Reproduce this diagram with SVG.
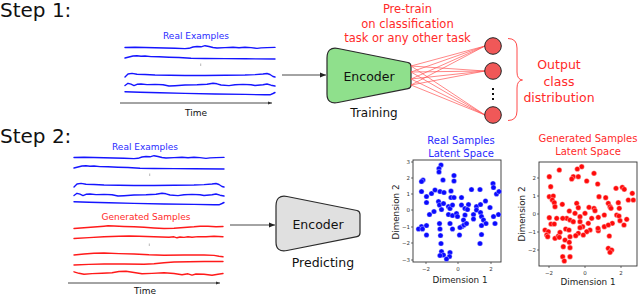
<svg xmlns="http://www.w3.org/2000/svg" xmlns:xlink="http://www.w3.org/1999/xlink" width="640" height="294" viewBox="0 0 640 294">
<style>
text{font-family:"DejaVu Sans","Liberation Sans",sans-serif}
.step{font-size:20px;fill:#111}
.lbl{font-size:9px;text-anchor:middle}
.blue{fill:#2b2bff}
.red{fill:#ff2a2a}
.blk{fill:#111}
.wb{fill:none;stroke:#1515ff;stroke-width:1.4;stroke-linejoin:round;stroke-linecap:round}
.wr{fill:none;stroke:#ff1a1a;stroke-width:1.4;stroke-linejoin:round;stroke-linecap:round}
.ax{stroke:#333;stroke-width:0.9;fill:none}
.enc{stroke:#2a2a2a;stroke-width:1.2}
.nn{stroke:#ff5555;stroke-width:0.7;fill:none}
.node{fill:#f05858;stroke:#222;stroke-width:1}
.box{fill:#fff;stroke:#333;stroke-width:0.9}
.tk{stroke:#333;stroke-width:0.7}
.tl{font-size:5.5px;fill:#333}
.pb circle{fill:#0a0aff;stroke:#ddf;stroke-width:0.4}
.pr circle{fill:#ff0a0a;stroke:#fdd;stroke-width:0.4}
.dim{font-size:8.8px;fill:#222;text-anchor:middle}
.tt{font-size:10px;text-anchor:middle}
</style>
<defs>
<marker id="ah" viewBox="0 0 10 10" refX="10" refY="5" markerWidth="6" markerHeight="6" orient="auto" markerUnits="userSpaceOnUse"><path d="M0,1 L10,5 L0,9 Z" fill="#222"/></marker>
<marker id="ahs" viewBox="0 0 10 10" refX="10" refY="5" markerWidth="4" markerHeight="4" orient="auto" markerUnits="userSpaceOnUse"><path d="M0,1 L10,5 L0,9 Z" fill="#333"/></marker>
<path id="encShape" d="M338,48.5 L408,62.5 Q411,63.2 411,66.5 L411,85 Q411,88 408,88.6 L338,102.5 Q327,104.5 327,94 L327,58 Q327,46.5 338,48.5 Z"/>
<g id="blueWaves">
<polyline class="wb" points="125,47.5 135,47.2 145,47.5 155,47.8 165,48 175,48.3 185,48.6 189,48.3 193,47 197,46.5 201,46.8 205,45.7 209,46.5 213,47.5 217,48 225,47.6 233,47.2 239,47.8 245,47.3 251,47.6 257,48.4 261,47.9 267,47.6 275,47.4"/>
<polyline class="wb" points="125,58 129,57 133,56 137,55.8 141,56.3 145,56 151,56.6 159,56.8 169,57.2 179,57.5 191,58.2 205,58.5 225,58.6 245,58.8 275,59"/>
<polyline class="wb" points="125,77 128,74 132,73.4 137,74.3 145,74.5 155,75 170,75.3 185,75.5 205,75.5 225,75.3 245,75 255,74.6 263,74 267,73.5 270,74.5 273,76.5 275,77"/>
<polyline class="wb" points="125,85.5 128,83.3 131,84.2 134,85.6 137,84.3 141,84 147,84.6 155,84.4 163,84.7 169,86 175,85.7 185,85 197,84.8 207,84.2 213,83.2 217,83.8 221,85 229,85.6 235,84.8 243,84.4 251,84.8 255,85.5 263,84.8 267,84 271,85.2 275,86"/>
<polyline class="wb" points="125,91.8 140,92.2 160,92.8 185,93.4 215,94 245,94.4 265,94.8 270,94.8 273,93.5 275,92.5"/>
<line x1="200.7" y1="63.5" x2="200.7" y2="66" stroke="#888" stroke-width="0.6"/>
</g>
</defs>

<g id="step1-title"><text class="step" x="0" y="16.5">Step 1:</text></g>
<g id="step2-title"><text class="step" x="0" y="143">Step 2:</text></g>

<g id="real-examples-1">
<text class="lbl blue" x="196" y="39">Real Examples</text>
<use xlink:href="#blueWaves"/>
<line class="ax" x1="120" y1="103" x2="272" y2="103" marker-end="url(#ahs)"/>
<text class="lbl blk" x="196" y="115.5">Time</text>
</g>

<g id="encoder-training">
<use xlink:href="#encShape" class="enc" fill="#8fe08c"/>
<text x="369" y="80.5" font-size="12.5" text-anchor="middle" fill="#111">Encoder</text>
<text x="374" y="116.5" font-size="12" text-anchor="middle" fill="#111">Training</text>
</g>

<g id="pretrain-label">
<text x="407.5" y="12.5" font-size="11.5" text-anchor="middle" class="red">Pre-train</text>
<text x="407.5" y="27.5" font-size="11.5" text-anchor="middle" class="red">on classification</text>
<text x="407.5" y="41.5" font-size="11.5" text-anchor="middle" class="red">task or any other task</text>
</g>

<g id="connectors">
<line class="ax" x1="282" y1="75" x2="326" y2="75" marker-end="url(#ah)"/>
<line class="ax" x1="230" y1="225" x2="275" y2="225" marker-end="url(#ah)"/>
<g id="nn-edges">
<line class="nn" x1="411" y1="66" x2="485" y2="46"/>
<line class="nn" x1="411" y1="72" x2="485" y2="46"/>
<line class="nn" x1="411" y1="79" x2="485" y2="46"/>
<line class="nn" x1="411" y1="85" x2="485" y2="46"/>
<line class="nn" x1="411" y1="66" x2="485" y2="71"/>
<line class="nn" x1="411" y1="72" x2="485" y2="71"/>
<line class="nn" x1="411" y1="79" x2="485" y2="71"/>
<line class="nn" x1="411" y1="85" x2="485" y2="71"/>
<line class="nn" x1="411" y1="66" x2="485" y2="115"/>
<line class="nn" x1="411" y1="72" x2="485" y2="115"/>
<line class="nn" x1="411" y1="79" x2="485" y2="115"/>
<line class="nn" x1="411" y1="85" x2="485" y2="115"/>
</g>
</g>

<g id="output-nodes">
<circle class="node" cx="493" cy="46" r="8.3"/>
<circle class="node" cx="493" cy="71" r="8.3"/>
<circle class="node" cx="493" cy="115" r="8.3"/>
<rect x="492" y="88" width="2" height="2" fill="#111"/>
<rect x="492" y="93" width="2" height="2" fill="#111"/>
<rect x="492" y="98" width="2" height="2" fill="#111"/>
</g>

<g id="output-brace">
<path d="M508,38.5 Q517,38.5 517,48 L517,72 Q517,79.5 522.5,80 Q517,80.5 517,88 L517,111 Q517,120.5 508,120.5" fill="none" stroke="#ff4a4a" stroke-width="1"/>
<text x="559" y="69" font-size="12.5" text-anchor="middle" class="red">Output</text>
<text x="559" y="85.5" font-size="12.5" text-anchor="middle" class="red">class</text>
<text x="559" y="101.5" font-size="12.5" text-anchor="middle" class="red">distribution</text>
</g>

<g id="samples-2">
<text class="lbl blue" x="145" y="149.5">Real Examples</text>
<use xlink:href="#blueWaves" transform="translate(-51,110)"/>
<text class="lbl red" x="146" y="219.5">Generated Samples</text>
<g transform="translate(74,0)">
<polyline class="wr" points="0,228.5 10,227.8 20,227 30,226.2 34,225.8 40,226 50,226.5 60,226.8 70,227.3 80,228 90,228.5 100,228.2 110,227.5 120,226.8 126,226.2 134,226.3 142,226.7 149,226.5"/>
<polyline class="wr" points="0,238.5 15,237.6 30,236.8 45,236.2 55,236 65,236.3 80,236.8 95,237.2 100,236.8 103,237.8 106,237 110,237.4 114,236.8 118,237.2 124,236.6 132,236.8 140,236.3 149,236.8"/>
<polyline class="wr" points="0,255 10,254 20,253.2 30,253 45,253.6 60,254 75,254.8 90,255.2 110,255 130,255 140,255.4 145,256.3 149,256.8"/>
<polyline class="wr" points="0,265 15,264.4 30,264 50,264 70,264.2 80,263.8 90,262.8 100,262 115,261.7 130,261.5 149,261.5"/>
<polyline class="wr" points="0,271.8 5,273.3 10,274.3 18,273.6 28,273.2 38,272.7 45,271.5 52,271.3 60,272.5 68,273.8 78,273.4 90,272.7 100,273.5 108,274.8 114,273.8 118,275.2 122,274 130,274.2 138,275.3 144,274.2 149,273.5"/>
</g>
<line x1="149.3" y1="243.5" x2="149.3" y2="246" stroke="#888" stroke-width="0.6"/>
<line class="ax" x1="68" y1="283" x2="220" y2="283" marker-end="url(#ahs)"/>
<text class="lbl blk" x="145" y="293.5">Time</text>
</g>

<g id="encoder-predicting">
<use xlink:href="#encShape" class="enc" fill="#e0e0e0" transform="translate(-51,148)"/>
<text x="318" y="229" font-size="12.5" text-anchor="middle" fill="#111">Encoder</text>
<text x="323" y="267" font-size="12.5" text-anchor="middle" fill="#111">Predicting</text>
</g>

<g id="real-latent">
<text class="tt blue" x="461" y="144">Real Samples</text>
<text class="tt blue" x="461" y="157">Latent Space</text>
<rect class="box" x="413" y="160" width="88" height="102"/>
<g class="tk">
<line x1="411" y1="162" x2="413" y2="162"/><line x1="411" y1="178" x2="413" y2="178"/><line x1="411" y1="194" x2="413" y2="194"/><line x1="411" y1="210" x2="413" y2="210"/><line x1="411" y1="227" x2="413" y2="227"/><line x1="411" y1="243" x2="413" y2="243"/><line x1="411" y1="260" x2="413" y2="260"/>
<line x1="426" y1="262" x2="426" y2="264"/><line x1="458" y1="262" x2="458" y2="264"/><line x1="491" y1="262" x2="491" y2="264"/>
</g>
<g class="tl" text-anchor="end">
<text x="410" y="164">3</text><text x="410" y="180">2</text><text x="410" y="196">1</text><text x="410" y="212">0</text><text x="410" y="229">−1</text><text x="410" y="245">−2</text><text x="410" y="262">−3</text>
</g>
<g class="tl" text-anchor="middle">
<text x="426" y="271">−2</text><text x="458" y="271">0</text><text x="491" y="271">2</text>
</g>
<text class="dim" x="460" y="283">Dimension 1</text>
<text class="dim" transform="translate(399,212) rotate(-90)">Dimension 2</text>
<g class="pb">
<circle cx="441" cy="165" r="2.6"/><circle cx="439" cy="168.5" r="2.6"/><circle cx="439" cy="172" r="2.6"/><circle cx="423" cy="180" r="2.6"/><circle cx="421.5" cy="181.5" r="2.6"/><circle cx="443" cy="180" r="2.6"/><circle cx="454" cy="175.5" r="2.6"/><circle cx="454" cy="181" r="2.6"/><circle cx="421.5" cy="191.5" r="2.6"/><circle cx="431.5" cy="193.5" r="2.6"/><circle cx="435" cy="190" r="2.6"/><circle cx="440" cy="191.5" r="2.6"/><circle cx="444" cy="192.5" r="2.6"/><circle cx="451" cy="191" r="2.6"/><circle cx="451" cy="197.5" r="2.6"/><circle cx="454" cy="197.5" r="2.6"/><circle cx="461.5" cy="197.5" r="2.6"/><circle cx="471.5" cy="189.5" r="2.6"/><circle cx="480" cy="189.5" r="2.6"/><circle cx="493" cy="183.5" r="2.6"/><circle cx="493.5" cy="187.5" r="2.6"/><circle cx="496.5" cy="194" r="2.6"/><circle cx="499" cy="191.5" r="2.6"/><circle cx="426.5" cy="196.5" r="2.6"/><circle cx="426.5" cy="202.5" r="2.6"/><circle cx="438.5" cy="201.5" r="2.6"/><circle cx="439.5" cy="205" r="2.6"/><circle cx="443.5" cy="203.5" r="2.6"/><circle cx="448.5" cy="206.5" r="2.6"/><circle cx="450" cy="208.5" r="2.6"/><circle cx="452.5" cy="205" r="2.6"/><circle cx="461.5" cy="205" r="2.6"/><circle cx="468.5" cy="204.5" r="2.6"/><circle cx="476.5" cy="206.5" r="2.6"/><circle cx="485.5" cy="201" r="2.6"/><circle cx="480.5" cy="204.5" r="2.6"/><circle cx="490" cy="207.5" r="2.6"/><circle cx="465" cy="208.5" r="2.6"/><circle cx="467.5" cy="209.5" r="2.6"/><circle cx="429.5" cy="214.5" r="2.6"/><circle cx="434" cy="211.5" r="2.6"/><circle cx="441.5" cy="209.5" r="2.6"/><circle cx="448.5" cy="214.5" r="2.6"/><circle cx="452.5" cy="215.5" r="2.6"/><circle cx="456.5" cy="213.5" r="2.6"/><circle cx="465" cy="215" r="2.6"/><circle cx="473.5" cy="214.5" r="2.6"/><circle cx="476.5" cy="210" r="2.6"/><circle cx="480.5" cy="212.5" r="2.6"/><circle cx="481.5" cy="216.5" r="2.6"/><circle cx="473.5" cy="219" r="2.6"/><circle cx="463.5" cy="220" r="2.6"/><circle cx="457.5" cy="216.5" r="2.6"/><circle cx="498.5" cy="214.5" r="2.6"/><circle cx="493.5" cy="216.5" r="2.6"/><circle cx="483.5" cy="220" r="2.6"/><circle cx="486" cy="223.5" r="2.6"/><circle cx="481.5" cy="225.5" r="2.6"/><circle cx="495" cy="223.5" r="2.6"/><circle cx="439.5" cy="223.5" r="2.6"/><circle cx="450" cy="223.5" r="2.6"/><circle cx="421.5" cy="226.5" r="2.6"/><circle cx="418.5" cy="229" r="2.6"/><circle cx="426.5" cy="225.5" r="2.6"/><circle cx="422.5" cy="229" r="2.6"/><circle cx="426.5" cy="235" r="2.6"/><circle cx="440" cy="229" r="2.6"/><circle cx="452.5" cy="229" r="2.6"/><circle cx="462" cy="226.5" r="2.6"/><circle cx="460" cy="227.5" r="2.6"/><circle cx="459.5" cy="235" r="2.6"/><circle cx="440.5" cy="235.5" r="2.6"/><circle cx="441" cy="243.5" r="2.6"/><circle cx="480" cy="243.5" r="2.6"/><circle cx="481.5" cy="234.5" r="2.6"/><circle cx="441.5" cy="251.5" r="2.6"/><circle cx="443.5" cy="255" r="2.6"/><circle cx="440" cy="255.5" r="2.6"/><circle cx="450" cy="252.5" r="2.6"/><circle cx="449.5" cy="256.5" r="2.6"/><circle cx="446.5" cy="259" r="2.6"/><circle cx="464" cy="225" r="2.6"/><circle cx="466.5" cy="223.5" r="2.6"/>
</g>
</g>

<g id="generated-latent">
<text class="tt red" x="588" y="142">Generated Samples</text>
<text class="tt red" x="588" y="154.5">Latent Space</text>
<rect class="box" x="539" y="162" width="98" height="104"/>
<g class="tk">
<line x1="537" y1="178" x2="539" y2="178"/><line x1="537" y1="196" x2="539" y2="196"/><line x1="537" y1="214" x2="539" y2="214"/><line x1="537" y1="232" x2="539" y2="232"/><line x1="537" y1="250" x2="539" y2="250"/>
<line x1="549" y1="266" x2="549" y2="268"/><line x1="585" y1="266" x2="585" y2="268"/><line x1="621" y1="266" x2="621" y2="268"/>
</g>
<g class="tl" text-anchor="end">
<text x="536" y="180">2</text><text x="536" y="198">1</text><text x="536" y="216">0</text><text x="536" y="234">−1</text><text x="536" y="252">−2</text>
</g>
<g class="tl" text-anchor="middle">
<text x="549" y="274.5">−2</text><text x="585" y="274.5">0</text><text x="621" y="274.5">2</text>
</g>
<text class="dim" x="588" y="285">Dimension 1</text>
<text class="dim" transform="translate(525,214) rotate(-90)">Dimension 2</text>
<g class="pr">
<circle cx="581.7" cy="166.7" r="2.6"/><circle cx="577.3" cy="169" r="2.6"/><circle cx="573.3" cy="176.7" r="2.6"/><circle cx="578.3" cy="176.7" r="2.6"/><circle cx="571.7" cy="179" r="2.6"/><circle cx="559.3" cy="170" r="2.6"/><circle cx="549.3" cy="176.7" r="2.6"/><circle cx="550.7" cy="186.7" r="2.6"/><circle cx="586.7" cy="181" r="2.6"/><circle cx="594" cy="173.3" r="2.6"/><circle cx="597.7" cy="184" r="2.6"/><circle cx="599" cy="196.7" r="2.6"/><circle cx="605.7" cy="197.7" r="2.6"/><circle cx="616" cy="188.3" r="2.6"/><circle cx="622.3" cy="187.3" r="2.6"/><circle cx="624.3" cy="189.3" r="2.6"/><circle cx="632.3" cy="193.3" r="2.6"/><circle cx="628.3" cy="200" r="2.6"/><circle cx="633.3" cy="200" r="2.6"/><circle cx="618.3" cy="202.7" r="2.6"/><circle cx="608.3" cy="203.3" r="2.6"/><circle cx="549.3" cy="196.7" r="2.6"/><circle cx="553.3" cy="196" r="2.6"/><circle cx="552.3" cy="200" r="2.6"/><circle cx="554.3" cy="202.7" r="2.6"/><circle cx="555" cy="206.7" r="2.6"/><circle cx="562.3" cy="204.3" r="2.6"/><circle cx="576.7" cy="203.3" r="2.6"/><circle cx="589" cy="207.3" r="2.6"/><circle cx="594" cy="208.3" r="2.6"/><circle cx="595" cy="210.7" r="2.6"/><circle cx="598.3" cy="217.3" r="2.6"/><circle cx="604.3" cy="215" r="2.6"/><circle cx="610" cy="206.7" r="2.6"/><circle cx="611" cy="208.3" r="2.6"/><circle cx="619.3" cy="208.3" r="2.6"/><circle cx="616.7" cy="215" r="2.6"/><circle cx="619" cy="216" r="2.6"/><circle cx="626.7" cy="219.3" r="2.6"/><circle cx="620" cy="220.7" r="2.6"/><circle cx="612.3" cy="223.3" r="2.6"/><circle cx="624" cy="225" r="2.6"/><circle cx="569.3" cy="211" r="2.6"/><circle cx="578.3" cy="207.7" r="2.6"/><circle cx="575" cy="213.3" r="2.6"/><circle cx="580" cy="216.7" r="2.6"/><circle cx="585" cy="213.3" r="2.6"/><circle cx="566.7" cy="218.3" r="2.6"/><circle cx="562.7" cy="218.3" r="2.6"/><circle cx="556.7" cy="218.3" r="2.6"/><circle cx="549.3" cy="217.7" r="2.6"/><circle cx="551" cy="224" r="2.6"/><circle cx="554.3" cy="224" r="2.6"/><circle cx="545" cy="230" r="2.6"/><circle cx="548.3" cy="231.7" r="2.6"/><circle cx="546.7" cy="235" r="2.6"/><circle cx="547.7" cy="236.7" r="2.6"/><circle cx="555" cy="238.3" r="2.6"/><circle cx="558.3" cy="236" r="2.6"/><circle cx="560" cy="232.3" r="2.6"/><circle cx="565.7" cy="229" r="2.6"/><circle cx="569" cy="230" r="2.6"/><circle cx="570" cy="220" r="2.6"/><circle cx="573.3" cy="221.7" r="2.6"/><circle cx="580" cy="221.7" r="2.6"/><circle cx="582.7" cy="226.7" r="2.6"/><circle cx="588.3" cy="223.3" r="2.6"/><circle cx="591.7" cy="218.3" r="2.6"/><circle cx="590" cy="230" r="2.6"/><circle cx="586.7" cy="231.7" r="2.6"/><circle cx="580" cy="227.7" r="2.6"/><circle cx="578.3" cy="233.3" r="2.6"/><circle cx="583.3" cy="235" r="2.6"/><circle cx="598.3" cy="230.7" r="2.6"/><circle cx="604.3" cy="226.7" r="2.6"/><circle cx="608.3" cy="225" r="2.6"/><circle cx="609.3" cy="236" r="2.6"/><circle cx="575.7" cy="235.7" r="2.6"/><circle cx="570" cy="236.7" r="2.6"/><circle cx="565" cy="240" r="2.6"/><circle cx="559.3" cy="237.3" r="2.6"/><circle cx="569.3" cy="242.3" r="2.6"/><circle cx="570" cy="247.7" r="2.6"/><circle cx="563.3" cy="246.7" r="2.6"/><circle cx="608.3" cy="248.3" r="2.6"/><circle cx="611.7" cy="250" r="2.6"/><circle cx="610" cy="252.3" r="2.6"/><circle cx="562.7" cy="256.7" r="2.6"/><circle cx="564.3" cy="261" r="2.6"/><circle cx="570" cy="256.7" r="2.6"/><circle cx="598" cy="228.3" r="2.6"/>
</g>
</g>
</svg>
